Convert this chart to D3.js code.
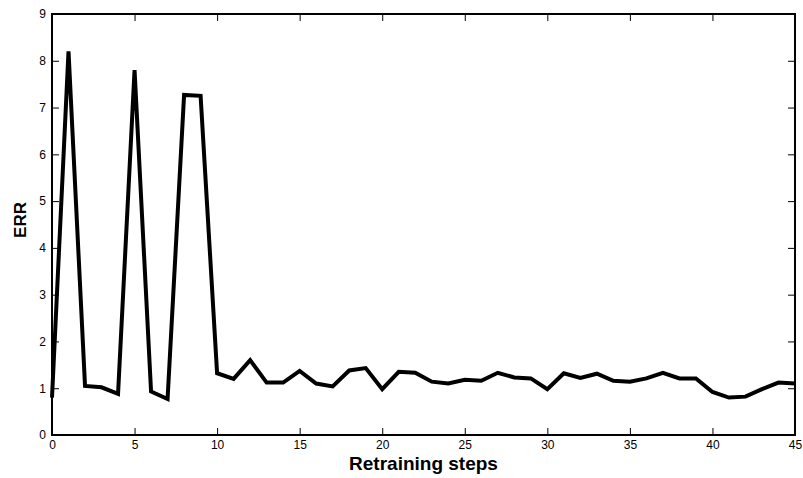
<!DOCTYPE html>
<html lang="en">
<head>
<meta charset="UTF-8" />
<script src="https://d3js.org/d3.v7.min.js"></script>
<style>
  body { margin: 0; background: #fff; }
  text { font-family: "Liberation Sans", Arial, sans-serif; }
</style>
</head>
<body>
<script>
// data
var steps = d3.range(0, 46);
var errValues = [0.8, 8.2, 1.05, 1.02, 0.88, 7.8, 0.93, 0.77, 7.27, 7.25,
  1.32, 1.2, 1.6, 1.12, 1.12, 1.37, 1.1, 1.04, 1.38, 1.43,
  0.98, 1.35, 1.33, 1.14, 1.1, 1.18, 1.16, 1.33, 1.23, 1.21,
  0.98, 1.32, 1.22, 1.31, 1.16, 1.14, 1.21, 1.33, 1.21, 1.21,
  0.92, 0.8, 0.82, 0.98, 1.12, 1.1];
var xTicks = [0, 5, 10, 15, 20, 25, 30, 35, 40, 45];
var yTicks = [0, 1, 2, 3, 4, 5, 6, 7, 8, 9];

var w = 803, h = 478;
var padL = 52, padR = 795, padT = 14, padB = 435;

var svg = d3.select("body").append("svg")
  .attr("width", w).attr("height", h);

var x = d3.scaleLinear().domain([0, 45]).range([padL, padR]);
var y = d3.scaleLinear().domain([0, 9]).range([padB, padT]);

var tickLen = 7;

// bottom axis (ticks inward)
svg.append("g")
  .attr("transform", "translate(0," + padB + ")")
  .call(d3.axisBottom(x).tickValues(xTicks).tickSize(-tickLen).tickPadding(5))
  .call(function (g) {
    g.select(".domain").remove();
    g.selectAll("line").attr("stroke", "#000");
    g.selectAll("text").attr("font-size", "12px").attr("fill", "#000");
  });

// top mirror ticks
svg.append("g")
  .attr("transform", "translate(0," + padT + ")")
  .call(d3.axisTop(x).tickValues(xTicks).tickSize(-tickLen).tickFormat(""))
  .call(function (g) {
    g.select(".domain").remove();
    g.selectAll("line").attr("stroke", "#000");
  });

// left axis
svg.append("g")
  .attr("transform", "translate(" + padL + ",0)")
  .call(d3.axisLeft(y).tickValues(yTicks).tickSize(-tickLen).tickPadding(6))
  .call(function (g) {
    g.select(".domain").remove();
    g.selectAll("line").attr("stroke", "#000");
    g.selectAll("text").attr("font-size", "12px").attr("fill", "#000");
  });

// right mirror ticks
svg.append("g")
  .attr("transform", "translate(" + padR + ",0)")
  .call(d3.axisRight(y).tickValues(yTicks).tickSize(-tickLen).tickFormat(""))
  .call(function (g) {
    g.select(".domain").remove();
    g.selectAll("line").attr("stroke", "#000");
  });

// frame
svg.append("rect")
  .attr("x", padL).attr("y", padT)
  .attr("width", padR - padL).attr("height", padB - padT)
  .attr("fill", "none").attr("stroke", "#000").attr("stroke-width", 2);

// the line
var line = d3.line()
  .x(function (d, i) { return x(steps[i]); })
  .y(function (d) { return y(d); });

svg.append("path")
  .datum(errValues)
  .attr("d", line)
  .attr("fill", "none")
  .attr("stroke", "#000")
  .attr("stroke-width", 4)
  .attr("stroke-linejoin", "miter");

// axis labels
svg.append("text")
  .attr("x", (padL + padR) / 2)
  .attr("y", 470)
  .attr("text-anchor", "middle")
  .attr("font-size", "19px")
  .attr("font-weight", "bold")
  .text("Retraining steps");

svg.append("text")
  .attr("transform", "translate(26,220) rotate(-90)")
  .attr("text-anchor", "middle")
  .attr("font-size", "17px")
  .attr("font-weight", "bold")
  .text("ERR");
</script>
</body>
</html>
